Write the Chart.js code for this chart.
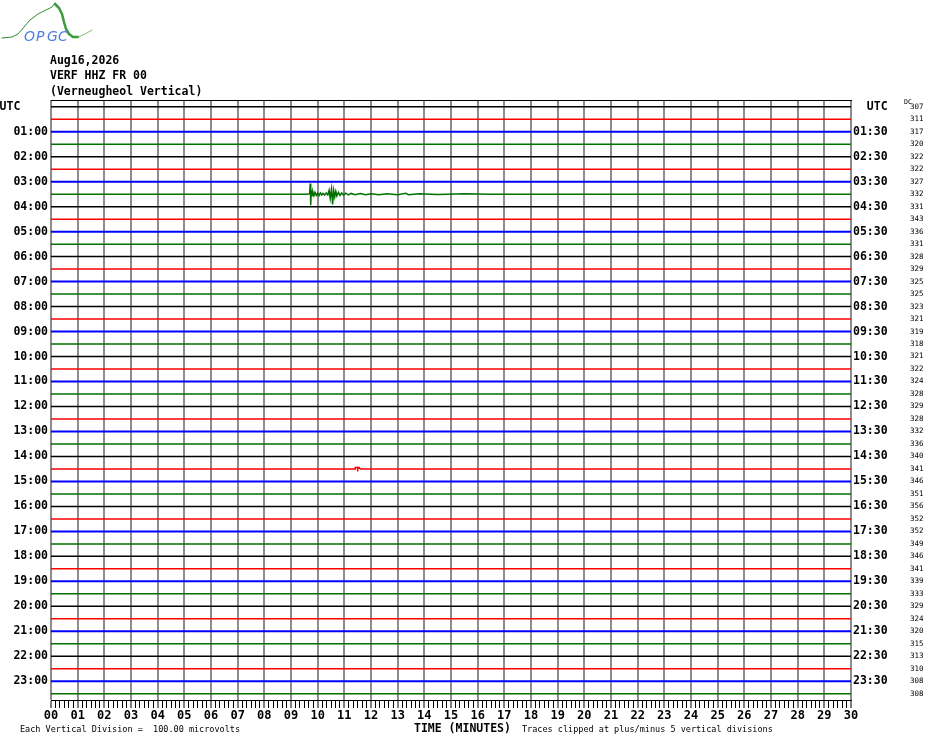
<!DOCTYPE html>
<html><head><meta charset="utf-8">
<script src="https://cdn.jsdelivr.net/npm/chart.js@4.4.1/dist/chart.umd.min.js"></script>
<style>html,body{margin:0;padding:0;background:#fff;}canvas{display:block}</style>
</head><body>
<canvas id="c" width="930" height="744"></canvas>
<script>
// ---------- data ----------
const headerLines = ["Aug16,2026", "VERF HHZ FR 00", "(Verneugheol Vertical)"];
const leftLabels = ["UTC    ","01:00","02:00","03:00","04:00","05:00","06:00","07:00","08:00","09:00","10:00","11:00",
  "12:00","13:00","14:00","15:00","16:00","17:00","18:00","19:00","20:00","21:00","22:00","23:00"];
const rightLabels = ["  UTC","01:30","02:30","03:30","04:30","05:30","06:30","07:30","08:30","09:30","10:30","11:30",
  "12:30","13:30","14:30","15:30","16:30","17:30","18:30","19:30","20:30","21:30","22:30","23:30"];
const dcValues = [307,311,317,320,322,322,327,332,331,343,336,331,
  328,329,325,325,323,321,319,318,321,322,324,328,
  329,328,332,336,340,341,346,351,356,352,352,349,
  346,341,339,333,329,324,320,315,313,310,308,308];
const traceColors = ["#000000", "#ff0000", "#0000ff", "#007000"];
const minuteLabels = ["00","01","02","03","04","05","06","07","08","09","10","11","12","13","14","15",
  "16","17","18","19","20","21","22","23","24","25","26","27","28","29","30"];
// event on the 03:30 trace (row 7): minutes and amplitude in divisions (+ = up)
const eventRow = 7;
const eventMinutes = [9.60,9.70,9.72,9.74,9.76,9.79,9.82,9.86,9.90,9.95,10.00,10.05,10.10,10.15,10.20,10.26,10.32,10.38,
  10.43,10.47,10.52,10.56,10.60,10.64,10.68,10.72,10.78,10.84,10.90,10.97,11.05,11.15,11.25,11.40,11.60,11.80,12.00,
  12.30,12.60,13.00,13.30,13.40,13.80,14.50,15.50,16.50];
const eventAmp = [0,0.04,0.86,-0.88,0.30,-0.10,0.18,-0.12,0.14,-0.10,0.08,-0.12,0.10,-0.06,0.06,-0.08,0.10,-0.06,
  0.32,-0.34,0.42,-0.82,0.30,-0.22,0.22,-0.14,0.14,-0.10,0.10,-0.08,0.08,-0.06,0.06,-0.05,0.05,-0.04,0.04,
  -0.04,0.04,-0.04,0.08,-0.04,0.04,-0.03,0.03,0];
// glitch on the 14:30 trace (row 29)
const glitchRow = 29;
const glitchMinutes = [11.40,11.41,11.58,11.59,11.50,11.50,11.50,11.62];
const glitchAmp = [0,0.12,0.12,0.12,0.12,-0.2,0.12,0];

// ---------- build datasets ----------
const datasets = [];
for (let r = 0; r < 48; r++) {
  let pts = [{x:0, y:r}];
  if (r === eventRow) eventMinutes.forEach((m,k) => pts.push({x:m, y:r - eventAmp[k]}));
  if (r === glitchRow) glitchMinutes.forEach((m,k) => pts.push({x:m, y:r - glitchAmp[k]}));
  pts.push({x:30, y:r});
  datasets.push({
    data: pts, borderColor: traceColors[r % 4], borderWidth: (r % 4 === 2) ? 2 : 1.5,
    pointRadius: 0, tension: 0, fill: false, xAxisID: 'x', yAxisID: 'y'
  });
}
const tickVals = [];
for (let k = 0; k <= 180; k++) tickVals.push(k / 6);

const MONO = '"DejaVu Sans Mono", monospace';

const decor = {
  id: 'decor',
  afterDraw(chart) {
    const ctx = chart.ctx;
    ctx.save();
    // logo
    ctx.lineCap = 'round'; ctx.lineJoin = 'round';
    ctx.strokeStyle = '#2f8a2f'; ctx.lineWidth = 1;
    ctx.beginPath();
    [[2,38],[12,37],[18,34],[24,27],[30,20],[38,14],[46,10],[52,7],[55,3]].forEach((p,i)=> i?ctx.lineTo(p[0],p[1]):ctx.moveTo(p[0],p[1]));
    ctx.stroke();
    ctx.strokeStyle = '#3c9a3c'; ctx.lineWidth = 2.5;
    ctx.beginPath();
    [[55,4],[59,8],[62,14],[64,22],[66,29],[69,34],[73,37],[78,37]].forEach((p,i)=> i?ctx.lineTo(p[0],p[1]):ctx.moveTo(p[0],p[1]));
    ctx.stroke();
    ctx.strokeStyle = '#7cbf6c'; ctx.lineWidth = 1;
    ctx.beginPath(); ctx.moveTo(78,37); ctx.lineTo(85,34); ctx.lineTo(92,30); ctx.stroke();
    ctx.font = 'italic 14px "DejaVu Sans", sans-serif';
    ctx.fillStyle = '#4a7fe0'; ctx.textBaseline = 'alphabetic'; ctx.textAlign = 'left';
    [['O',24],['P',36],['G',47],['C',58]].forEach(c => ctx.fillText(c[0], c[1], 41));
    // header
    ctx.fillStyle = '#000';
    ctx.font = 'bold 11.5px ' + MONO; ctx.textBaseline = 'middle';
    headerLines.forEach((t,i) => ctx.fillText(t, 50, 61 + i * 15.5));
    // DC marker
    ctx.font = '6.5px ' + MONO;
    ctx.fillText('DC', 904, 102);
    // bottom texts
    ctx.font = '8.5px ' + MONO;
    ctx.fillText('Each Vertical Division =  100.00 microvolts', 20, 730);
    ctx.fillText('Traces clipped at plus/minus 5 vertical divisions', 522, 730);
    ctx.font = 'bold 11.5px ' + MONO;
    ctx.fillText('TIME (MINUTES)', 414, 729);
    ctx.restore();
  }
};

new Chart(document.getElementById('c'), {
  type: 'line',
  data: { datasets },
  options: {
    responsive: false, animation: false, devicePixelRatio: 1, events: [],
    layout: { padding: 0 },
    plugins: { legend: { display: false }, tooltip: { enabled: false } },
    scales: {
      x: {
        type: 'linear', position: 'bottom', min: 0, max: 30,
        afterBuildTicks: s => { s.ticks = tickVals.map(v => ({value: v})); },
        afterFit: s => { s.height = 44; },
        ticks: { autoSkip: false, maxRotation: 0, minRotation: 0, padding: 1, color: '#000',
          font: { family: MONO, size: 12, weight: 'bold' },
          callback: (v, i) => (i % 6 === 0 ? minuteLabels[i / 6] : '') },
        grid: {
          color: c => (c.index % 6 === 0 ? '#8c8c8c' : 'rgba(0,0,0,0)'),
          lineWidth: c => (c.index % 6 === 0 ? 2 : 1),
          tickColor: '#000', tickLength: 8, tickWidth: 1
        },
        border: { display: true, color: '#000', width: 1 }
      },
      x2: {
        type: 'linear', position: 'top', min: 0, max: 30,
        afterFit: s => { s.height = 100; },
        ticks: { display: false }, grid: { display: false, drawTicks: false },
        border: { display: true, color: '#000', width: 1 }
      },
      y: {
        type: 'linear', position: 'left', min: -0.54, max: 47.5, reverse: true,
        afterBuildTicks: s => { s.ticks = leftLabels.map((_, k) => ({value: 2 * k})); },
        afterFit: s => { s.width = 51; },
        ticks: { autoSkip: false, padding: 3, color: '#000',
          font: { family: MONO, size: 11.5, weight: 'bold' },
          callback: (v, i) => leftLabels[i] },
        grid: { display: false, drawTicks: false }, border: { display: false }
      },
      y2: {
        type: 'linear', position: 'right', weight: 0, min: -0.54, max: 47.5, reverse: true,
        afterBuildTicks: s => { s.ticks = rightLabels.map((_, k) => ({value: 2 * k})); },
        afterFit: s => { s.width = 55; },
        ticks: { autoSkip: false, padding: 2, color: '#000',
          font: { family: MONO, size: 11.5, weight: 'bold' },
          callback: (v, i) => rightLabels[i] },
        grid: { display: false, drawTicks: false }, border: { display: false }
      },
      y3: {
        type: 'linear', position: 'right', weight: 1, min: -0.54, max: 47.5, reverse: true,
        afterBuildTicks: s => { s.ticks = dcValues.map((_, k) => ({value: k})); },
        afterFit: s => { s.width = 24; },
        ticks: { autoSkip: false, padding: 4, color: '#000',
          font: { family: MONO, size: 7.5 },
          callback: (v, i) => String(dcValues[i]) },
        grid: { display: false, drawTicks: false }, border: { display: false }
      }
    }
  },
  plugins: [decor]
});
</script>
</body></html>
